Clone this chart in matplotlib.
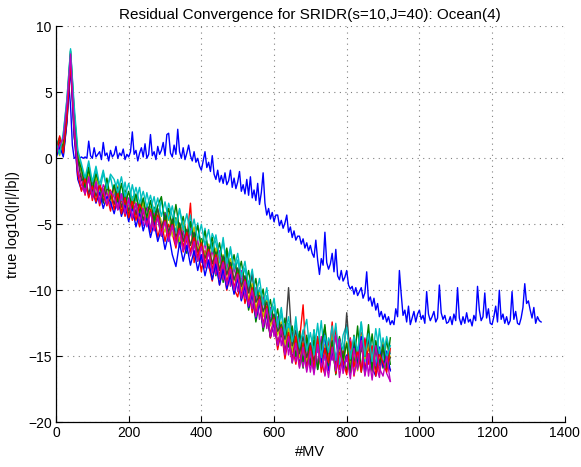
import numpy as np
import matplotlib
matplotlib.use("Agg")
import matplotlib.pyplot as plt

plt.rcParams['font.family'] = ['Liberation Sans', 'DejaVu Sans']

title = "Residual Convergence for SRIDR(s=10,J=40): Ocean(4)"
xlabel = "#MV"
ylabel = "true log10(|r|/|b|)"
xticks = [0, 200, 400, 600, 800, 1000, 1200, 1400]
yticks = [-20, -15, -10, -5, 0, 5, 10]

# long run (blue), one value every 5 MV
long_step = 5
long_run = [
    0.3, 1.0, 0.5, 1.2, 0.8, 1.5, 3.5, 5.6, 4.0, 1.0, 0.0, 0.1, -0.1, 0.0, 0.1, 0.0, 0.1, 0.0, 1.3, 0.2,
    0.0, 0.8, 0.1, 0.3, 0.5, -0.1, 1.2, 0.2, 0.4, -0.2, 0.6, 0.1, 0.3, 0.9, 0.0, 0.4, 0.2, 0.7, -0.1, 0.3,
    0.1, 0.5, 2.0, 0.3, 0.6, -0.2, 0.4, 0.8, 0.1, 1.1, 0.0, 0.3, 1.8, 0.2, 0.5, -0.1, 0.9, 0.3, 0.6, 1.2,
    0.2, 1.8, 1.9, 0.4, 0.1, 1.0, 0.3, 2.2, 0.5, 0.0, 0.8, -0.1, 0.4, 1.0, 0.2, -0.2, 0.5, -0.3, 0.0, -0.6,
    -0.9, -0.2, 0.5, -0.7, -0.3, -1.0, 0.2, -1.2, -1.6, -0.9, -1.8, -1.3, -1.9, -1.1, -2.0, -1.7, -0.9, -2.2, -1.5, -2.3,
    -1.8, -1.0, -2.5, -2.0, -2.7, -1.6, -2.8, -1.4, -3.0, -2.4, -3.2, -1.9, -3.5, -2.6, -1.1, -3.4, -4.3, -3.8, -4.6, -4.1,
    -4.8, -4.3, -4.3, -5.1, -4.7, -5.3, -4.9, -4.3, -5.6, -5.2, -6.0, -5.5, -6.2, -5.9, -5.9, -6.5, -6.1, -6.8, -6.4, -7.0,
    -6.6, -7.2, -7.5, -6.2, -7.7, -8.8, -7.6, -8.1, -5.6, -7.9, -8.4, -8.0, -7.2, -8.6, -6.9, -8.9, -9.2, -8.5, -9.3, -9.0,
    -8.5, -9.6, -9.9, -9.7, -10.3, -9.8, -10.4, -10.1, -9.8, -10.6, -10.2, -8.6, -10.8, -10.5, -11.2, -10.6, -11.5, -11.0, -12.0, -11.6,
    -12.2, -11.8, -12.4, -12.0, -12.6, -12.3, -12.6, -11.4, -12.0, -8.5, -10.3, -11.9, -11.5, -12.4, -11.2, -12.6, -12.1, -11.6, -12.4, -11.8,
    -11.5, -12.2, -11.9, -12.5, -10.1, -11.8, -12.3, -12.0, -11.6, -12.4, -12.1, -9.6, -11.7, -12.2, -11.9, -12.5, -12.4, -12.0, -12.6, -11.8,
    -12.3, -9.8, -12.1, -12.6, -12.0, -12.5, -11.7, -12.4, -12.2, -12.7, -11.9, -12.3, -9.7, -11.5, -12.3, -12.0, -10.2, -12.1, -11.4, -12.5,
    -12.6, -12.0, -11.2, -12.4, -10.0, -12.2, -11.8, -12.5, -12.0, -12.6, -12.3, -10.1, -12.2, -11.6, -12.5, -12.6, -12.1, -11.3, -9.5, -11.0,
    -10.8, -11.5, -12.1, -11.3, -12.5, -12.0, -12.3, -12.4,
]

# the other runs, one value every 10 MV
run_step = 10
run_green = [
    0.9, 1.6, 0.2, 2.8, 7.4, 1.6, -0.2, -1.0, -2.4, -0.9,
    -2.9, -1.5, -2.2, -3.4, -1.9, -3.6, -2.1, -3.0, -4.1, -2.4,
    -4.4, -2.9, -3.6, -5.1, -3.3, -4.8, -5.4, -3.7, -4.6, -5.9,
    -4.1, -6.0, -5.3, -4.5, -6.7, -5.5, -7.2, -4.9, -6.4, -7.8,
    -6.1, -8.3, -7.0, -6.4, -8.9, -7.5, -9.4, -7.1, -9.0, -10.2,
    -8.6, -10.7, -9.4, -11.5, -10.3, -12.4, -10.9, -13.1, -11.8, -13.6,
    -12.2, -14.3, -13.0, -14.9, -12.8, -15.5, -13.7, -14.4, -15.9, -13.4,
    -15.7, -13.0, -16.0, -14.5, -12.6, -15.8, -14.1, -16.3, -13.6, -15.2,
    -16.1, -13.8, -15.5, -12.7, -16.2, -14.6, -15.4, -13.3, -16.0, -14.4,
    -15.9, -13.7, -15.6,
]
run_red = [
    0.1, 1.1, 1.4, 4.0, 7.8, 3.1, -1.3, -1.4, -2.8, -1.2,
    -3.2, -2.0, -3.6, -2.4, -2.7, -4.0, -2.3, -3.9, -3.1, -4.4,
    -3.3, -4.7, -3.9, -5.2, -4.0, -4.6, -5.6, -4.2, -6.0, -4.8,
    -6.3, -5.0, -5.7, -6.8, -5.2, -7.1, -6.2, -3.4, -7.9, -6.8,
    -8.6, -7.0, -8.1, -9.3, -7.6, -9.6, -8.2, -10.0, -8.7, -9.9,
    -10.5, -9.1, -11.0, -9.8, -11.7, -10.2, -10.0, -12.8, -11.5, -13.6,
    -12.3, -14.5, -13.0, -15.2, -13.6, -14.1, -15.6, -13.8, -11.1, -15.9,
    -14.0, -16.2, -13.5, -15.4, -16.4, -13.8, -15.1, -12.8, -16.0, -14.6,
    -15.3, -13.6, -16.5, -14.8, -13.2, -16.1, -14.2, -15.8, -13.9, -16.3,
    -14.5, -15.7, -16.0,
]
run_cyan = [
    1.5, 0.4, 1.8, 4.4, 8.3, 3.6, 0.4, -0.6, -1.9, -0.4,
    -2.1, -0.9, -2.6, -1.1, -2.3, -1.4, -2.8, -1.6, -3.2, -1.8,
    -3.5, -2.0, -3.3, -2.2, -4.1, -2.6, -3.9, -2.9, -4.6, -3.1,
    -5.0, -3.4, -4.4, -5.6, -3.8, -5.2, -6.1, -4.3, -6.4, -4.9,
    -6.9, -5.3, -7.3, -5.7, -6.4, -7.9, -6.0, -8.4, -6.9, -8.6,
    -7.7, -9.4, -8.3, -10.1, -8.9, -10.9, -9.8, -11.8, -10.4, -12.3,
    -11.2, -13.2, -11.7, -13.9, -12.5, -14.4, -12.0, -14.8, -13.3, -12.2,
    -15.1, -13.0, -14.7, -12.3, -15.3, -13.6, -14.4, -12.5, -15.6, -13.4,
    -12.6, -15.0, -13.7, -14.9, -12.4, -15.4, -13.1, -14.6, -15.7, -12.9,
    -15.2, -13.5, -14.8,
]
run_magenta = [
    0.3, 1.4, 0.4, 3.1, 7.7, 1.9, -1.5, -1.1, -2.6, -1.6,
    -2.9, -1.7, -3.4, -2.0, -2.6, -3.7, -2.2, -3.9, -2.7, -4.2,
    -3.0, -4.5, -3.4, -3.7, -5.1, -3.6, -5.4, -4.1, -4.4, -5.8,
    -4.2, -6.1, -4.8, -6.5, -5.0, -5.6, -7.0, -5.3, -7.4, -6.2,
    -7.9, -6.3, -8.3, -6.9, -8.8, -7.0, -9.2, -7.6, -9.7, -8.0,
    -10.1, -8.5, -10.6, -9.3, -11.4, -9.8, -12.2, -10.5, -12.9, -11.3,
    -13.5, -12.0, -14.2, -12.6, -14.9, -13.2, -15.4, -13.3, -15.8, -14.0,
    -16.2, -14.3, -15.6, -13.5, -16.5, -14.6, -15.3, -13.4, -16.6, -14.9,
    -15.4, -13.7, -16.4, -14.8, -16.0, -13.6, -16.5, -14.3, -15.6, -16.6,
    -14.1, -16.3, -16.9,
]
run_yellow = [
    1.0, 0.2, 1.5, 3.8, 7.0, 3.4, 0.3, -1.0, -2.0, -1.2,
    -2.6, -1.4, -2.2, -3.1, -1.8, -3.4, -2.5, -2.1, -3.8, -2.6,
    -4.0, -2.9, -3.5, -4.6, -3.2, -4.9, -3.8, -5.2, -3.9, -4.8,
    -5.6, -4.2, -5.9, -4.6, -6.3, -4.9, -5.5, -6.6, -5.2, -7.0,
    -6.2, -7.5, -6.5, -8.0, -6.8, -8.4, -7.3, -8.9, -7.6, -9.3,
    -8.4, -10.0, -9.0, -10.7, -9.5, -11.4, -10.2, -12.0, -10.8, -12.7,
    -11.9, -13.4, -12.4, -14.1, -12.9, -14.7, -13.2, -15.1, -13.9, -15.4,
    -14.3, -15.9, -13.6, -15.3, -14.1, -16.0, -13.3, -15.5, -14.5, -15.8,
    -13.9, -15.6, -14.6, -16.1, -13.4, -15.2, -14.0, -16.2, -14.7, -15.4,
    -13.8, -15.9, -15.0,
]
run_gray = [
    0.8, 1.2, 0.6, 3.3, 7.6, 2.9, -0.1, -1.7, -1.4, -2.7,
    -1.6, -2.9, -2.0, -3.3, -2.3, -2.5, -3.5, -2.2, -3.7, -2.8,
    -4.0, -3.1, -4.3, -3.3, -4.7, -3.6, -3.9, -5.0, -3.8, -5.3,
    -4.3, -5.6, -4.6, -6.0, -4.9, -6.3, -5.4, -6.6, -5.6, -7.1,
    -6.5, -7.6, -6.7, -8.0, -7.1, -8.5, -7.4, -8.8, -7.9, -9.2,
    -8.3, -9.7, -8.9, -10.2, -8.7, -10.9, -10.4, -11.6, -10.9, -12.4,
    -11.8, -13.1, -12.6, -13.7, -9.8, -14.2, -13.0, -14.8, -13.5, -15.1,
    -14.0, -15.4, -13.6, -15.0, -14.4, -15.7, -13.8, -15.2, -14.2, -15.6,
    -11.7, -15.3, -13.9, -15.8, -14.5, -15.0, -13.7, -16.0, -14.6, -15.5,
    -14.1, -15.7, -15.1,
]
run_blue = [
    0.0, 0.9, 0.1, 2.7, 6.9, 1.8, -1.6, -2.4, -1.7, -2.9,
    -2.3, -3.4, -2.6, -3.8, -2.9, -3.3, -4.2, -3.0, -4.4, -3.5,
    -4.8, -3.7, -5.2, -4.1, -5.5, -4.5, -6.0, -4.9, -6.3, -5.4,
    -6.9, -5.7, -7.3, -8.2, -6.4, -7.8, -6.6, -8.1, -7.0, -8.5,
    -7.3, -8.9, -7.7, -9.2, -8.0, -9.6, -8.4, -9.9, -8.8, -10.3,
    -9.1, -10.8, -9.7, -11.3, -10.2, -12.1, -10.9, -12.8, -11.6, -13.5,
    -12.4, -14.1, -13.0, -14.7, -13.5, -15.2, -13.8, -15.6, -14.2, -15.9,
    -14.4, -16.2, -14.0, -15.5, -13.3, -16.1, -14.6, -15.7, -13.7, -16.0,
    -14.9, -16.3, -14.2, -15.6, -13.5, -16.4, -14.8, -15.9, -16.5, -14.3,
    -15.8, -14.6, -16.1,
]
run_green2 = [
    0.6, 1.5, 0.8, 3.9, 8.1, 3.5, 0.0, -0.8, -2.2, -0.7,
    -2.4, -1.2, -2.0, -2.9, -1.5, -3.1, -2.0, -3.3, -1.9, -3.5,
    -2.5, -3.8, -2.7, -4.1, -3.0, -4.5, -3.2, -4.7, -3.6, -2.9,
    -4.9, -3.8, -5.2, -3.5, -5.5, -4.4, -6.0, -4.8, -6.3, -5.1,
    -6.8, -5.5, -7.2, -6.0, -7.6, -6.4, -8.1, -6.8, -8.5, -7.3,
    -9.0, -7.8, -9.6, -8.5, -10.4, -9.1, -11.1, -9.9, -12.0, -10.7,
    -12.6, -11.4, -13.5, -12.1, -14.3, -12.7, -15.0, -13.1, -15.4, -13.6,
    -15.6, -13.8, -16.0, -14.1, -12.8, -15.7, -13.9, -16.4, -13.5, -15.3,
    -14.0, -16.2, -13.4, -15.9, -14.2, -15.0, -12.6, -16.1, -13.8, -15.7,
    -14.3, -16.0, -13.6,
]
run_red2 = [
    0.2, 1.7, 0.4, 3.0, 7.3, 2.2, -1.2, -2.5, -1.5, -3.0,
    -2.1, -3.3, -2.0, -2.7, -3.6, -2.4, -3.9, -2.6, -4.2, -3.0,
    -4.5, -3.2, -4.7, -3.5, -4.0, -5.1, -3.9, -5.4, -4.3, -5.6,
    -4.7, -6.0, -5.0, -6.3, -5.3, -6.7, -5.6, -7.1, -6.0, -7.5,
    -6.4, -8.0, -6.9, -8.4, -7.3, -8.9, -7.8, -9.4, -8.2, -9.8,
    -8.7, -10.4, -9.2, -11.0, -9.8, -11.8, -10.5, -12.6, -11.2, -13.4,
    -12.1, -14.1, -12.8, -14.8, -13.2, -15.4, -13.5, -15.8, -14.0, -16.0,
    -14.2, -15.9, -13.6, -16.2, -14.4, -15.5, -12.4, -16.3, -14.7, -15.4,
    -16.4, -13.9, -15.8, -14.5, -16.2, -13.7, -15.6, -14.2, -16.5, -14.8,
    -15.5, -16.2, -14.4,
]
run_cyan2 = [
    1.2, 0.3, 1.9, 4.5, 8.2, 4.0, 0.6, -0.4, -1.5, -0.2,
    -1.8, -0.6, -2.0, -0.9, -2.3, -1.2, -1.6, -2.6, -1.4, -2.9,
    -1.9, -3.2, -2.2, -3.4, -2.5, -3.7, -2.8, -4.1, -3.0, -4.4,
    -3.3, -4.7, -3.6, -5.1, -3.9, -5.4, -4.2, -5.8, -4.6, -6.2,
    -5.0, -6.6, -5.4, -7.1, -5.8, -7.5, -6.3, -8.0, -6.7, -8.4,
    -7.2, -9.0, -7.8, -9.7, -8.4, -10.4, -9.1, -11.1, -9.8, -11.9,
    -10.6, -12.7, -11.3, -13.4, -12.0, -13.9, -12.6, -14.3, -13.0, -14.6,
    -13.2, -14.9, -12.5, -15.1, -13.4, -14.7, -12.7, -15.3, -13.8, -14.5,
    -12.8, -15.2, -13.5, -14.6, -12.4, -15.0, -13.3, -15.4, -12.9, -14.8,
    -13.6, -15.1, -14.2,
]
run_magenta2 = [
    0.4, 1.0, 1.5, 4.1, 7.9, 2.5, -0.9, -2.0, -2.7, -1.4,
    -3.0, -1.8, -3.2, -2.3, -3.5, -2.5, -2.9, -3.9, -2.7, -4.2,
    -3.1, -4.5, -3.4, -4.9, -3.8, -5.2, -4.1, -5.5, -4.5, -5.9,
    -4.8, -6.3, -5.1, -6.6, -5.5, -7.0, -5.9, -7.4, -6.3, -7.8,
    -6.7, -8.3, -7.1, -8.7, -7.5, -9.1, -7.9, -9.6, -8.4, -10.0,
    -8.8, -10.6, -9.3, -11.2, -10.0, -12.0, -10.7, -12.8, -11.4, -13.5,
    -12.2, -14.2, -12.9, -14.9, -13.5, -15.5, -14.0, -15.9, -14.3, -16.2,
    -14.6, -16.4, -14.1, -15.8, -14.9, -16.6, -14.3, -16.1, -13.7, -16.3,
    -15.0, -16.7, -14.4, -16.0, -13.8, -16.5, -14.8, -16.8, -14.2, -15.9,
    -16.5, -15.0, -16.9,
]

C_B = (0, 0, 1)
C_G = (0, 0.5, 0)
C_R = (1, 0, 0)
C_C = (0, 0.75, 0.75)
C_M = (0.75, 0, 0.75)
C_Y = (0.75, 0.75, 0)
C_K = (0.25, 0.25, 0.25)

runs = [
    (run_green, C_G), (run_red, C_R), (run_cyan, C_C), (run_magenta, C_M),
    (run_yellow, C_Y), (run_gray, C_K), (run_blue, C_B), (run_green2, C_G),
    (run_red2, C_R), (run_cyan2, C_C), (run_magenta2, C_M),
]

fig = plt.figure(figsize=(5.81, 4.67), dpi=100)
ax = fig.add_axes([0.0964, 0.0957, 0.8756, 0.848])

ax.plot(np.arange(len(long_run)) * long_step, long_run, color=C_B, lw=1.0)
for vals, col in runs:
    ax.plot(np.arange(len(vals)) * run_step, vals, color=col, lw=1.0)

ax.set_xlim(0, 1400)
ax.set_ylim(-20, 10)
ax.set_xticks(xticks)
ax.set_yticks(yticks)
ax.grid(True, color='#808080', linestyle=(0, (1, 4)), linewidth=0.8)
for s in ['top', 'right']:
    ax.spines[s].set_visible(False)
for s in ['left', 'bottom']:
    ax.spines[s].set_linewidth(0.9)
ax.tick_params(direction='in', length=4, labelsize=10, pad=3)
ax.set_title(title, fontsize=11, pad=5)
ax.set_xlabel(xlabel, fontsize=10.5, labelpad=3)
ax.set_ylabel(ylabel, fontsize=10.5, labelpad=6)

fig.savefig("out.png", dpi=100)
